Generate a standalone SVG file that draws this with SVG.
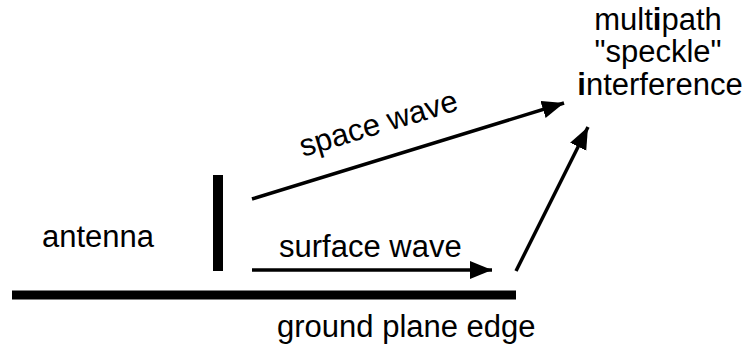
<svg xmlns="http://www.w3.org/2000/svg" width="749" height="352" viewBox="0 0 749 352">
<defs>
<style>
text{font-family:"Liberation Sans",Arial,sans-serif;font-size:31px;fill:#000}
.ln{stroke:#000;stroke-width:3.5;fill:none}
</style>
<marker id="ah" markerUnits="userSpaceOnUse" markerWidth="24" markerHeight="20" refX="22" refY="9" orient="auto" viewBox="0 0 24 20">
<path d="M0,0 L22,9 L0,18 z" fill="#000"/>
</marker>
</defs>
<rect width="749" height="352" fill="#fff"/>
<g id="ground">
<rect x="12" y="290.5" width="504" height="9" fill="#000"/>
<text x="277" y="337">ground plane edge</text>
</g>
<g id="antenna">
<rect x="213" y="175" width="10" height="96" fill="#000"/>
<text x="42" y="247">antenna</text>
</g>
<g id="multipath">
<text x="658" y="30" text-anchor="middle">mult<tspan font-weight="bold">i</tspan>path</text>
<text x="658" y="62" text-anchor="middle">"speckle"</text>
<text x="660" y="95" text-anchor="middle"><tspan font-weight="bold">i</tspan>nterference</text>
</g>
<g id="connectors">
<line class="ln" x1="252" y1="199" x2="564" y2="103" marker-end="url(#ah)"/>
<line class="ln" x1="252" y1="270" x2="492" y2="270" marker-end="url(#ah)"/>
<line class="ln" x1="516" y1="271" x2="588" y2="127" marker-end="url(#ah)"/>
<text x="303" y="157" transform="rotate(-16.8 303 157)">space wave</text>
<text x="279" y="257">surface wave</text>
</g>
</svg>
